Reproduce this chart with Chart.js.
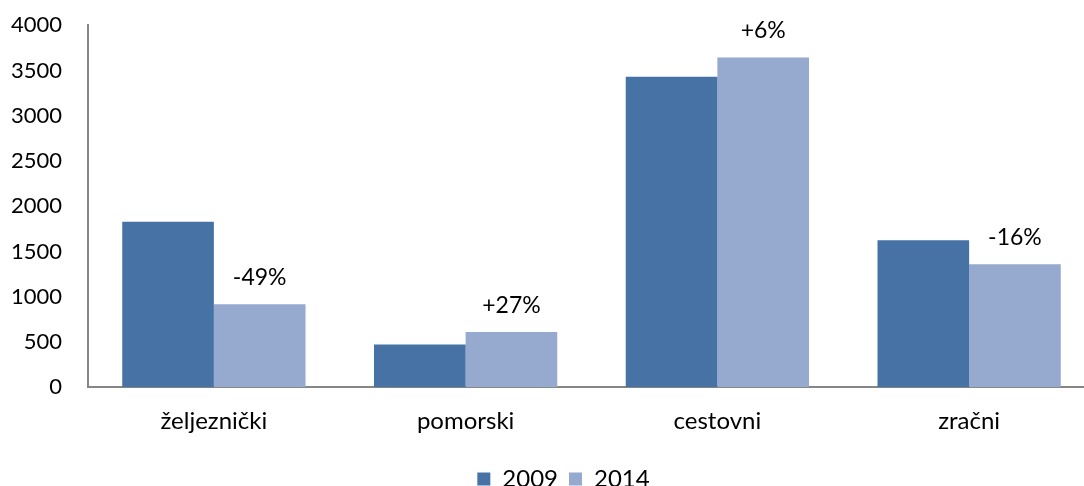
<!DOCTYPE html>
<html>
<head>
<meta charset="utf-8">
<script src="https://cdn.jsdelivr.net/npm/chart.js@4/dist/chart.umd.min.js"></script>
<style>
  html, body { margin: 0; padding: 0; background: #fff; overflow: hidden; }
  #wrap { width: 1100px; height: 515px; margin-top: -14px; }
</style>
</head>
<body>
<div id="wrap"><canvas id="chart_promet"></canvas></div>
<script>
var categories = ["željeznički", "pomorski", "cestovni", "zračni"];
var values2009 = [1828, 473, 3431, 1625];
var values2014 = [916, 609, 3642, 1359];
var changeLabels = ["-49%", "+27%", "+6%", "-16%"];
var yTicks = [0, 500, 1000, 1500, 2000, 2500, 3000, 3500, 4000];

var FONT = "Lato, 'Noto Sans', sans-serif";
var FSIZE = 22;

// percentage change text above the 2014 bars
var changePlugin = {
    id: 'changeLabels',
    afterLayout: function(chart) {
        // legend in the original sits a bit right of centre
        chart.legend.left += 16;
        chart.legend.right += 16;
    },
    afterDatasetsDraw: function(chart) {
        var ctx = chart.ctx;
        var meta = chart.getDatasetMeta(1);
        ctx.save();
        ctx.font = "23px " + FONT;
        ctx.fillStyle = "#000";
        ctx.textAlign = "center";
        ctx.textBaseline = "middle";
        meta.data.forEach(function(bar, i) {
            ctx.fillText(changeLabels[i], bar.x, bar.y - 27);
        });
        ctx.restore();
    }
};

var ctx = document.getElementById("chart_promet").getContext('2d');
var myChart = new Chart(ctx, {
    type: 'bar',
    data: {
        labels: categories,
        datasets: [{
            label: "2009",
            backgroundColor: "#4672a6",
            data: values2009
        }, {
            label: "2014",
            backgroundColor: "#96a9ce",
            data: values2014
        }]
    },
    options: {
        responsive: true,
        maintainAspectRatio: false,
        animation: false,
        layout: { padding: { top: 2, right: 5, left: 0, bottom: 0 } },
        datasets: {
            bar: { categoryPercentage: 0.728, barPercentage: 1.0 }
        },
        scales: {
            x: {
                grid: { display: false, drawTicks: false },
                border: { color: "#868686", width: 2 },
                ticks: { color: "#000", font: { family: FONT, size: 24 }, padding: 20 }
            },
            y: {
                min: 0,
                max: 4000,
                afterBuildTicks: function(scale) {
                    scale.ticks = yTicks.map(function(v) { return { value: v }; });
                },
                afterFit: function(scale) { scale.width = 88; },
                grid: { display: false, drawTicks: false },
                border: { color: "#868686", width: 2 },
                ticks: {
                    color: "#000",
                    font: { family: FONT, size: FSIZE },
                    padding: 26,
                    callback: function(v) { return String(v); }
                }
            }
        },
        plugins: {
            tooltip: { enabled: false },
            legend: {
                display: true,
                position: 'bottom',
                labels: {
                    color: "#000",
                    font: { family: FONT, size: 24 },
                    boxWidth: 13,
                    boxHeight: 13,
                    padding: 11
                }
            }
        }
    },
    plugins: [changePlugin]
});
</script>
</body>
</html>
